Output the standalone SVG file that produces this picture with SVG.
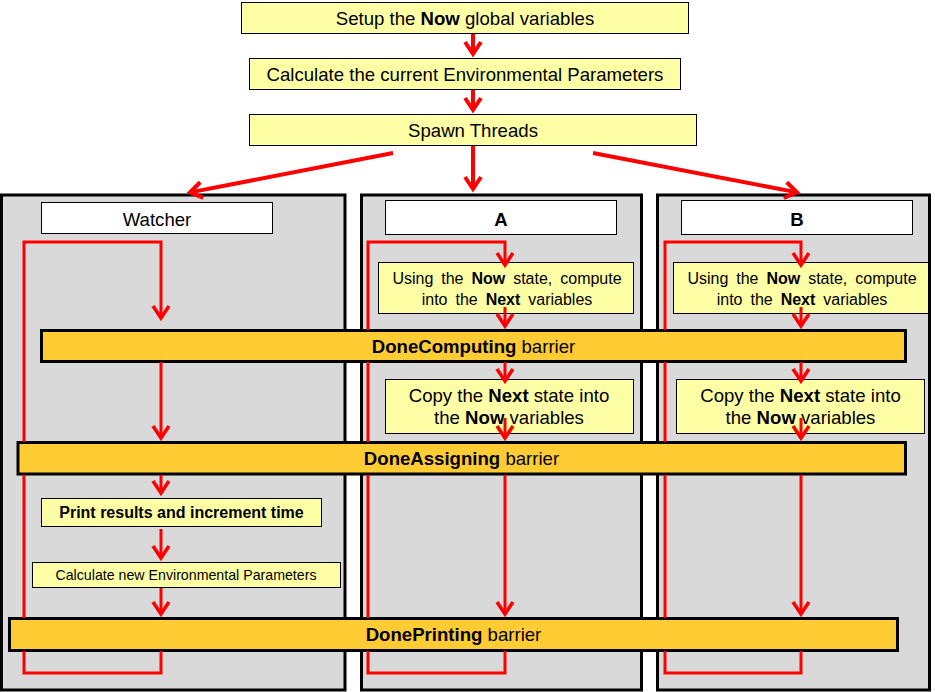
<svg xmlns="http://www.w3.org/2000/svg" width="935" height="692" viewBox="0 0 935 692">
<style>
text{font-family:"Liberation Sans",Arial,sans-serif;fill:#000;text-anchor:middle}
.b{font-weight:bold}
.note{fill:#ffffa6;stroke:#000;stroke-width:1}
.head{fill:#fff;stroke:#000;stroke-width:1}
.panel{fill:#d9d9d9;stroke:#000;stroke-width:3}
.bar{fill:#ffcc33;stroke:#000;stroke-width:3}
.t18{font-size:18.6px}
.t15{font-size:16px;word-spacing:3.5px}
.c{fill:none;stroke:#f00;stroke-width:3}
.ca{fill:none;stroke:#f00;stroke-width:3;marker-end:url(#ah)}
.cw{fill:none;stroke:#f00;stroke-width:4;marker-end:url(#ahw)}
</style>
<defs>
<marker id="ah" markerUnits="userSpaceOnUse" markerWidth="30" markerHeight="30" viewBox="-15 -15 30 30" refX="0" refY="0" orient="auto" overflow="visible">
<path d="M-12,-8 L0,0 L-12,8" fill="none" stroke="#f00" stroke-width="3.5"/>
</marker>
<marker id="ahw" markerUnits="userSpaceOnUse" markerWidth="30" markerHeight="30" viewBox="-15 -15 30 30" refX="0" refY="0" orient="auto" overflow="visible">
<path d="M-12,-8 L0,0 L-12,8" fill="none" stroke="#f00" stroke-width="4"/>
</marker>
</defs>
<rect width="935" height="692" fill="#fff"/>

<g id="setup"><rect class="note" x="241.5" y="2.5" width="447" height="31"/><text class="t18" x="465" y="25">Setup the <tspan class="b">Now</tspan> global variables</text></g>
<g id="calc-current"><rect class="note" x="249.5" y="58.5" width="431" height="31"/><text class="t18" x="465" y="81">Calculate the current Environmental Parameters</text></g>
<g id="spawn"><rect class="note" x="249.5" y="114.5" width="447" height="31"/><text class="t18" x="473" y="137">Spawn Threads</text></g>

<g id="panel-watcher"><rect class="panel" x="1.5" y="195" width="343.5" height="495"/></g>
<g id="panel-a"><rect class="panel" x="361.5" y="195" width="280" height="495"/></g>
<g id="panel-b"><rect class="panel" x="657.5" y="195" width="272" height="495"/></g>

<g id="watcher"><rect class="head" x="41.5" y="202.5" width="231" height="31"/><text class="t18" x="157" y="226">Watcher</text></g>
<g id="a"><rect class="head" x="385.5" y="200.5" width="231" height="34"/><text class="t18 b" x="501" y="226">A</text></g>
<g id="b"><rect class="head" x="681.5" y="200.5" width="231" height="34"/><text class="t18 b" x="797" y="226">B</text></g>

<g id="a-compute"><rect class="note" x="378.5" y="262.5" width="255" height="51"/>
<text class="t15" x="507" y="283.5">Using the <tspan class="b">Now</tspan> state, compute</text>
<text class="t15" x="507" y="304.5">into the <tspan class="b">Next</tspan> variables</text></g>
<g id="b-compute"><rect class="note" x="673.5" y="262.5" width="255" height="51"/>
<text class="t15" x="802" y="283.5">Using the <tspan class="b">Now</tspan> state, compute</text>
<text class="t15" x="802" y="304.5">into the <tspan class="b">Next</tspan> variables</text></g>

<g id="a-copy"><rect class="note" x="385.5" y="379.5" width="248" height="54"/>
<text class="t18" x="509" y="402">Copy the <tspan class="b">Next</tspan> state into</text>
<text class="t18" x="509" y="423.5">the <tspan class="b">Now</tspan> variables</text></g>
<g id="b-copy"><rect class="note" x="676.5" y="379.5" width="248" height="54"/>
<text class="t18" x="800.5" y="402">Copy the <tspan class="b">Next</tspan> state into</text>
<text class="t18" x="800.5" y="423.5">the <tspan class="b">Now</tspan> variables</text></g>

<g id="print"><rect class="note" x="41.5" y="498.5" width="280" height="28"/><text class="b" font-size="16" x="181.5" y="518">Print results and increment time</text></g>
<g id="calc-new"><rect class="note" x="32.5" y="562.5" width="308" height="25"/><text font-size="14.2" x="186" y="580">Calculate new Environmental Parameters</text></g>

<g id="done-computing"><rect class="bar" x="41.5" y="330.5" width="864" height="31"/><text class="t18" x="473.5" y="352.5"><tspan class="b">DoneComputing</tspan> barrier</text></g>
<g id="done-assigning"><rect class="bar" x="18" y="442.5" width="887.5" height="31.5"/><text class="t18" x="461.5" y="465"><tspan class="b">DoneAssigning</tspan> barrier</text></g>
<g id="done-printing"><rect class="bar" x="9.5" y="618.5" width="888" height="32"/><text class="t18" x="453.5" y="640.5"><tspan class="b">DonePrinting</tspan> barrier</text></g>

<g id="connectors">
<path class="cw" d="M473,34 V54"/>
<path class="cw" d="M473,90 V110"/>
<path class="cw" d="M473,146 V189"/>
<path class="cw" d="M393,153 L190,192.4"/>
<path class="cw" d="M593,153 L797,192.4"/>

<path class="c" d="M161,651 V673 H24 V651"/>
<path class="c" d="M24,618 V475"/>
<path class="ca" d="M24,442 V242 H161 V318"/>
<path class="ca" d="M161,362 V438"/>
<path class="ca" d="M161,475 V493"/>
<path class="ca" d="M161,529 V558"/>
<path class="ca" d="M161,588 V614"/>

<path class="c" d="M505,651 V673 H368 V651"/>
<path class="c" d="M368,618 V475"/>
<path class="c" d="M368,442 V362"/>
<path class="ca" d="M368,330 V242 H505 V265"/>
<path class="ca" d="M505,307 V326"/>
<path class="ca" d="M505,362 V381"/>
<path class="ca" d="M505,418 V438"/>
<path class="ca" d="M505,475 V614"/>

<path class="c" d="M801,651 V673 H665 V651"/>
<path class="c" d="M665,618 V475"/>
<path class="c" d="M665,442 V362"/>
<path class="ca" d="M665,330 V242 H801 V265"/>
<path class="ca" d="M801,307 V326"/>
<path class="ca" d="M801,362 V381"/>
<path class="ca" d="M801,418 V438"/>
<path class="ca" d="M801,475 V614"/>
</g>
</svg>
